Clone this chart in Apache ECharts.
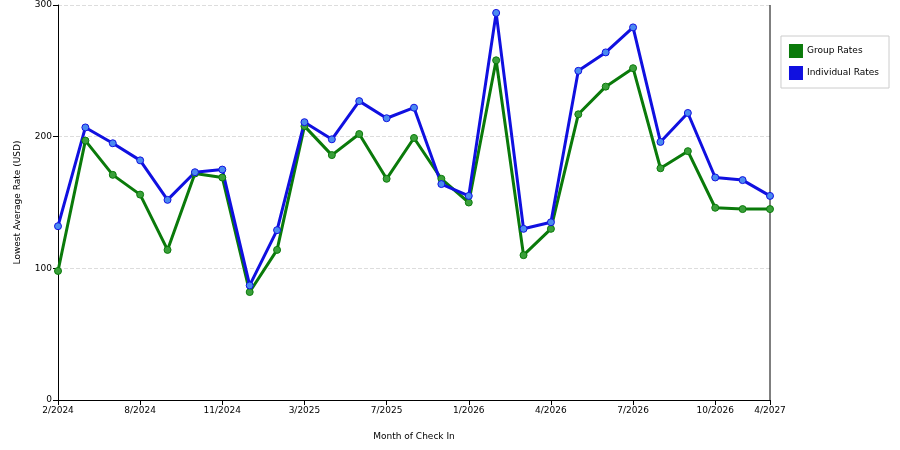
<!DOCTYPE html>
<html><head><meta charset="utf-8">
<script src="https://cdn.jsdelivr.net/npm/echarts@6/dist/echarts.min.js"></script>
<style>html,body{margin:0;padding:0;background:#fff}#c{width:900px;height:450px}</style>
</head><body><div id="c"></div>
<script>
const categories = ["2/2024","4/2024","6/2024","8/2024","9/2024","10/2024","11/2024","12/2024","1/2025","3/2025","4/2025","5/2025","7/2025","8/2025","10/2025","1/2026","2/2026","3/2026","4/2026","5/2026","6/2026","7/2026","8/2026","9/2026","10/2026","12/2026","4/2027"];
const groupRates = [98,197,171,156,114,172,169,82,114,208,186,202,168,199,168,150,258,110,130,217,238,252,176,189,146,145,145];
const individualRates = [132,207,195,182,152,173,175,87,129,211,198,227,214,222,164,155,294,130,135,250,264,283,196,218,169,167,155];
const yTicks = [0,100,200,300];
const chart = echarts.init(document.getElementById('c'));
const font = {fontFamily:'DejaVu Sans', fontSize:9, color:'#000'};
function ser(name, data, color, mcol){
  return {name, type:'line', data, symbol:'circle', symbolSize:7,
    lineStyle:{color, width:3}, itemStyle:{color:mcol, borderColor:color, borderWidth:1}, animation:false};
}
chart.setOption({
  animation:false,
  grid:{left:58, right:130, top:5, bottom:50},
  legend:{orient:'vertical', right:11, top:36, itemWidth:12, itemHeight:12, icon:'rect',
    borderColor:'#ccc', borderWidth:1, padding:[8,10,8,8], itemGap:8,
    textStyle:font, data:[{name:'Group Rates', itemStyle:{color:'#0a7a0a'}},{name:'Individual Rates', itemStyle:{color:'#1010e0'}}]},
  xAxis:{type:'category', data:categories, boundaryGap:false, name:'Month of Check In', nameLocation:'middle', nameGap:32,
    nameTextStyle:font, axisLine:{lineStyle:{color:'#000'}},
    axisTick:{interval:(i)=>i%3===0||i===26, lineStyle:{color:'#000'}},
    axisLabel:Object.assign({interval:(i)=>i%3===0||i===26, margin:6}, font), splitLine:{show:false}},
  yAxis:{type:'value', min:0, max:300, interval:100, name:'Lowest Average Rate (USD)', nameLocation:'middle', nameGap:36,
    nameTextStyle:font, axisLine:{show:true, lineStyle:{color:'#000'}}, axisTick:{show:true, lineStyle:{color:'#000'}},
    axisLabel:Object.assign({margin:6}, font), splitLine:{lineStyle:{color:'#ddd', type:'dashed'}}},
  series:[ser('Group Rates', groupRates, '#0a7a0a', '#3aa03a'), ser('Individual Rates', individualRates, '#1010e0', '#4a8af0')]
});
// right border of plot
chart.setOption({graphic:[{type:'line', shape:{x1:770,y1:5,x2:770,y2:400}, style:{stroke:'#000', lineWidth:1}}]});
</script></body></html>
